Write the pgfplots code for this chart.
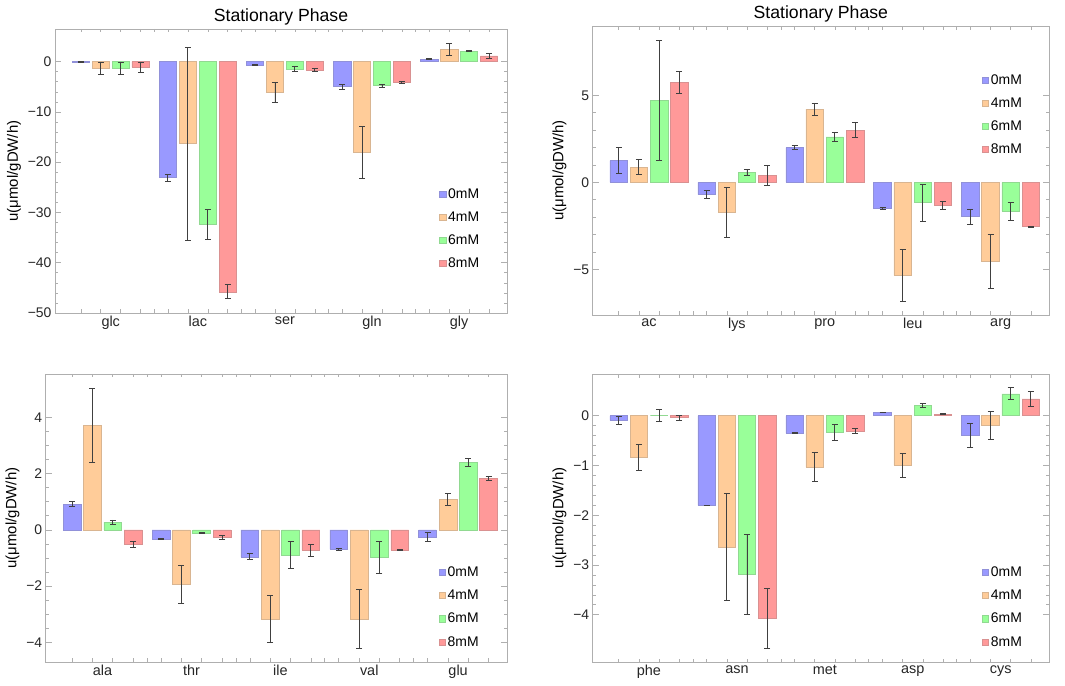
\documentclass[border=0pt]{standalone}
\usepackage{fontspec}
\setmainfont{Liberation Sans}
\usepackage{pgfplots}
\usepackage{pgfplotstable}
\pgfplotsset{compat=1.18}

\definecolor{c0}{RGB}{153,153,255}
\definecolor{c4}{RGB}{255,204,153}
\definecolor{c6}{RGB}{153,255,153}
\definecolor{c8}{RGB}{255,153,153}
\definecolor{framegray}{RGB}{175,175,175}

% columns: group, value and error for 0, 4, 6, 8 mM
\pgfplotstableread{
x b0 e0 b4 e4 b6 e6 b8 e8
1 -0.1 0.1 -1.33 1.2 -1.33 1.25 -1.1 1.0
2 -23.1 0.7 -16.3 19.2 -32.4 3.0 -45.8 1.4
3 -0.66 0.1 -6.1 1.95 -1.5 0.45 -1.73 0.3
4 -5.0 0.5 -18.1 5.2 -4.8 0.3 -4.2 0.2
5 0.46 0.1 2.46 1.15 2.1 0.05 1.13 0.5
}\tl
\pgfplotstableread{
x b0 e0 b4 e4 b6 e6 b8 e8
1 1.25 0.74 0.88 0.43 4.71 3.46 5.73 0.62
2 -0.71 0.22 -1.72 1.43 0.57 0.19 0.40 0.57
3 1.99 0.11 4.20 0.36 2.61 0.26 2.99 0.44
4 -1.49 0.05 -5.34 1.49 -1.17 1.05 -1.34 0.24
5 -1.97 0.44 -4.54 1.55 -1.67 0.52 -2.55 0.02
}\tr
\pgfplotstableread{
x b0 e0 b4 e4 b6 e6 b8 e8
1 0.91 0.09 3.72 1.31 0.27 0.08 -0.52 0.09
2 -0.32 0.02 -1.94 0.69 -0.12 0.01 -0.27 0.06
3 -0.96 0.11 -3.18 0.83 -0.91 0.48 -0.72 0.21
4 -0.70 0.05 -3.18 1.05 -0.97 0.57 -0.72 0.01
5 -0.25 0.17 1.09 0.21 2.40 0.13 1.83 0.07
}\bl
\pgfplotstableread{
x b0 e0 b4 e4 b6 e6 b8 e8
1 -0.09 0.08 -0.84 0.26 0.0 0.12 -0.04 0.05
2 -1.80 0.005 -2.64 1.07 -3.19 0.81 -4.07 0.60
3 -0.355 0.01 -1.03 0.29 -0.335 0.16 -0.31 0.05
4 0.067 0.01 -0.99 0.24 0.21 0.04 0.027 0.01
5 -0.40 0.24 -0.19 0.28 0.44 0.12 0.34 0.15
}\br

\pgfplotsset{
  panel/.style={
    scale only axis, anchor=south west,
    xmin=0.36, xmax=5.55,
    axis line style={framegray, line width=0.8bp},
    tick style={framegray, line width=0.6bp},
    tick align=inside,
    major tick length=6bp, minor tick length=3.5bp,
    xtick={1,2,3,4,5},
    major x tick style={draw=none},
    minor xtick={0.6565,0.8855,1.1145,1.3435,1.5,
                 1.6565,1.8855,2.1145,2.3435,2.5,
                 2.6565,2.8855,3.1145,3.3435,3.5,
                 3.6565,3.8855,4.1145,4.3435,4.5,
                 4.6565,4.8855,5.1145,5.3435},
    yticklabel style={font=\fontsize{14}{16}\selectfont, text=black!85},
    xticklabel style={font=\fontsize{14.5}{16}\selectfont, text=black!85},
    ylabel={u(μmol/gDW/h)},
    ylabel style={font=\fontsize{15}{17}\selectfont},
    title style={font=\fontsize{17.7}{20}\selectfont, yshift=-6bp},
    legend style={draw=none, fill=none, inner sep=0pt, anchor=north west,
      font=\fontsize{14}{16}\selectfont, row sep=8bp,
      cells={anchor=west}},
  },
  ser/.style={ybar, bar width=0.2, bar shift=0pt, line width=0.6bp,
    fill=#1, draw=#1!70!gray,
    error bars/y dir=both, error bars/y explicit,
    error bars/error bar style={black!75, line width=0.9bp},
    error bars/error mark options={black!75, rotate=90, mark size=3bp, line width=0.9bp},
    legend image code/.code={
      \draw[##1] (0bp,-3.1bp) rectangle (6.2bp,3.1bp);}},
}

\begin{document}
\begin{tikzpicture}
\useasboundingbox (0,0) rectangle (1065bp,686bp);

% top left
\begin{axis}[panel, at={(55bp,373bp)}, width=452bp, height=284bp,
  ymin=-50, ymax=6.5,
  ytick={-50,-40,-30,-20,-10,0}, yticklabels={−50,−40,−30,−20,−10,0},
  minor y tick num=4,
  xticklabels={glc,lac,ser,gln,gly},
  title={Stationary Phase},
  legend style={at={(rel axis cs:0.85,0.446)}}]
\addplot[ser=c0] table[x expr=\thisrow{x}-0.3435, y=b0, y error=e0] {\tl};
\addplot[ser=c4] table[x expr=\thisrow{x}-0.1145, y=b4, y error=e4] {\tl};
\addplot[ser=c6] table[x expr=\thisrow{x}+0.1145, y=b6, y error=e6] {\tl};
\addplot[ser=c8] table[x expr=\thisrow{x}+0.3435, y=b8, y error=e8] {\tl};
\legend{0mM,4mM,6mM,8mM}
\end{axis}

% top right
\begin{axis}[panel, at={(592.7bp,371bp)}, width=456.3bp, height=289bp,
  ymin=-7.62, ymax=8.98,
  ytick={-5,0,5}, yticklabels={−5,0,5},
  minor y tick num=4,
  xticklabels={ac,lys,pro,leu,arg},
  title={Stationary Phase},
  legend style={at={(rel axis cs:0.853,0.84)}}]
\addplot[ser=c0] table[x expr=\thisrow{x}-0.3435, y=b0, y error=e0] {\tr};
\addplot[ser=c4] table[x expr=\thisrow{x}-0.1145, y=b4, y error=e4] {\tr};
\addplot[ser=c6] table[x expr=\thisrow{x}+0.1145, y=b6, y error=e6] {\tr};
\addplot[ser=c8] table[x expr=\thisrow{x}+0.3435, y=b8, y error=e8] {\tr};
\legend{0mM,4mM,6mM,8mM}
\end{axis}

% bottom left
\begin{axis}[panel, at={(45.7bp,24bp)}, width=461.3bp, height=288bp,
  ymin=-4.70, ymax=5.54,
  ytick={-4,-2,0,2,4}, yticklabels={−4,−2,0,2,4},
  minor y tick num=3,
  xticklabels={ala,thr,ile,val,glu},
  legend style={at={(rel axis cs:0.852,0.338)}}]
\addplot[ser=c0] table[x expr=\thisrow{x}-0.3435, y=b0, y error=e0] {\bl};
\addplot[ser=c4] table[x expr=\thisrow{x}-0.1145, y=b4, y error=e4] {\bl};
\addplot[ser=c6] table[x expr=\thisrow{x}+0.1145, y=b6, y error=e6] {\bl};
\addplot[ser=c8] table[x expr=\thisrow{x}+0.3435, y=b8, y error=e8] {\bl};
\legend{0mM,4mM,6mM,8mM}
\end{axis}

% bottom right
\begin{axis}[panel, at={(592.7bp,24bp)}, width=456.3bp, height=288bp,
  ymin=-4.95, ymax=0.84,
  ytick={-4,-3,-2,-1,0}, yticklabels={−4,−3,−2,−1,0},
  minor y tick num=4,
  xticklabels={phe,asn,met,asp,cys},
  legend style={at={(rel axis cs:0.853,0.338)}}]
\addplot[ser=c0] table[x expr=\thisrow{x}-0.3435, y=b0, y error=e0] {\br};
\addplot[ser=c4] table[x expr=\thisrow{x}-0.1145, y=b4, y error=e4] {\br};
\addplot[ser=c6] table[x expr=\thisrow{x}+0.1145, y=b6, y error=e6] {\br};
\addplot[ser=c8] table[x expr=\thisrow{x}+0.3435, y=b8, y error=e8] {\br};
\legend{0mM,4mM,6mM,8mM}
\end{axis}
\end{tikzpicture}
\end{document}
